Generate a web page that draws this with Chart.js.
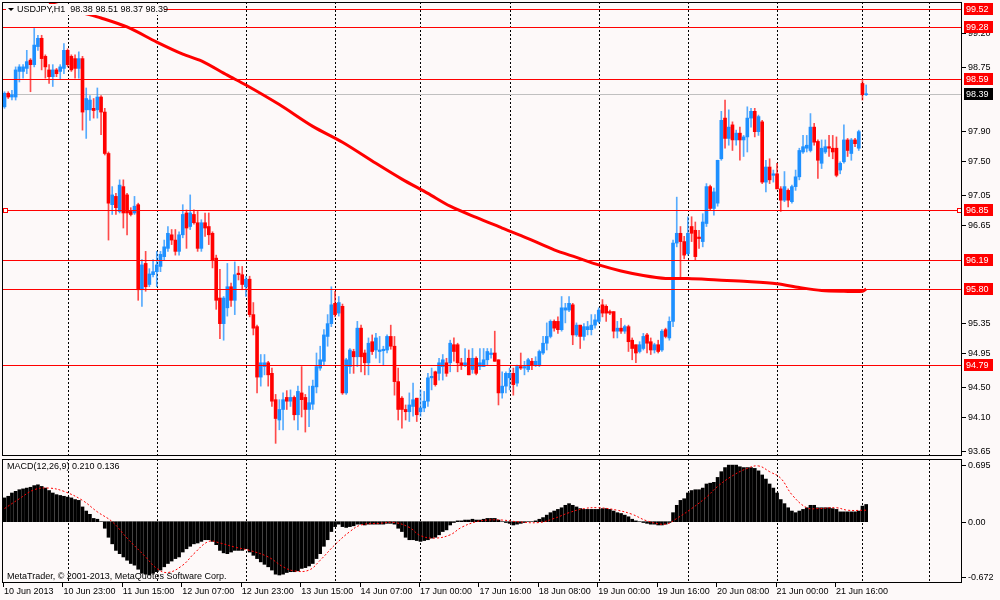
<!DOCTYPE html>
<html>
<head>
<meta charset="utf-8">
<title>USDJPY,H1</title>
<script src="https://cdn.jsdelivr.net/npm/chart.js@4.4.0/dist/chart.umd.min.js"></script>
<style>
html, body { margin: 0; padding: 0; background: #fdf9f9; }
#wrap { position: relative; width: 1000px; height: 600px; overflow: hidden; }
#priceChart { position: absolute; left: 0; top: 0; }
#macdChart { position: absolute; left: 0; top: 458px; }
</style>
</head>
<body>
<div id="wrap">
<canvas id="priceChart" width="1000" height="458"></canvas>
<canvas id="macdChart" width="1000" height="142"></canvas>
</div>
<script>
// hourly candles, bar 0 = 10 Jun 07:00
const opens = [
  98.22, 98.40, 98.35, 98.35, 98.69, 98.69, 98.73, 98.84, 98.78, 99.02,
  99.13, 98.89, 98.71, 98.62, 98.71, 98.69, 98.73, 98.97, 98.89, 98.86,
  98.73, 98.86, 98.18, 98.18, 98.20, 98.18, 98.35, 98.15, 97.60, 96.92,
  97.03, 96.83, 97.16, 97.05, 96.83, 96.81, 96.92, 95.79, 96.14, 95.86,
  95.99, 96.03, 96.10, 96.23, 96.34, 96.52, 96.45, 96.30, 96.52, 96.81,
  96.63, 96.79, 96.68, 96.34, 96.68, 96.63, 96.54, 96.21, 95.68, 95.34,
  95.55, 95.83, 95.65, 96.01, 95.99, 95.83, 95.93, 95.46, 95.30, 94.63,
  94.77, 94.82, 94.68, 94.33, 94.06, 94.20, 94.36, 94.31, 94.36, 94.13,
  94.42, 94.36, 94.20, 94.27, 94.50, 94.75, 94.84, 95.17, 95.34, 95.61,
  95.48, 95.57, 94.42, 94.77, 94.97, 94.90, 95.28, 94.95, 94.82, 95.10,
  94.99, 94.97, 94.98, 94.99, 95.17, 95.04, 94.57, 94.35, 94.20, 94.17,
  94.24, 94.35, 94.17, 94.22, 94.31, 94.62, 94.70, 94.68, 94.77, 94.82,
  94.82, 95.06, 95.06, 94.82, 94.79, 94.88, 94.73, 94.88, 94.77, 94.77,
  94.86, 94.93, 94.95, 94.86, 94.42, 94.51, 94.62, 94.68, 94.55, 94.77,
  94.75, 94.73, 94.84, 94.79, 94.79, 94.95, 95.08, 95.17, 95.37, 95.37,
  95.26, 95.52, 95.52, 95.59, 95.19, 95.32, 95.17, 95.26, 95.26, 95.32,
  95.37, 95.59, 95.57, 95.50, 95.50, 95.24, 95.28, 95.24, 95.30, 95.12,
  95.06, 94.97, 95.01, 95.19, 95.10, 94.99, 95.06, 94.99, 95.26, 95.15,
  95.37, 96.41, 96.54, 96.43, 96.27, 96.63, 96.58, 96.49, 96.43, 96.67,
  97.16, 96.87, 96.94, 97.53, 98.07, 97.80, 97.98, 97.78, 97.87, 97.78,
  97.82, 98.07, 98.16, 97.89, 98.02, 97.22, 97.42, 97.31, 97.33, 97.13,
  96.98, 97.11, 96.96, 97.16, 97.29, 97.62, 97.67, 97.64, 97.95, 97.76,
  97.47, 97.62, 97.69, 97.67, 97.67, 97.38, 97.49, 97.78, 97.60, 97.78,
  97.67, 98.53, 98.38
];
const highs = [
  98.42, 98.42, 98.44, 98.75, 98.78, 98.78, 98.97, 98.86, 99.26, 99.17,
  99.17, 98.91, 98.78, 98.78, 98.73, 98.78, 99.06, 98.99, 98.91, 98.91,
  98.95, 98.89, 98.47, 98.37, 98.33, 98.47, 98.37, 98.20, 97.62, 97.16,
  97.07, 97.25, 97.25, 97.07, 96.88, 97.03, 96.94, 96.19, 96.30, 96.07,
  96.19, 96.30, 96.30, 96.45, 96.63, 96.59, 96.59, 96.56, 96.92, 96.85,
  97.05, 96.85, 96.83, 96.72, 96.81, 96.81, 96.56, 96.25, 96.06, 95.70,
  96.14, 95.88, 96.16, 96.10, 96.10, 95.97, 95.97, 95.62, 95.32, 94.93,
  94.93, 94.84, 94.75, 94.40, 94.33, 94.42, 94.45, 94.46, 94.38, 94.51,
  94.77, 94.40, 94.51, 94.59, 94.95, 95.04, 95.26, 95.46, 95.83, 95.77,
  95.70, 95.60, 94.88, 95.01, 95.00, 95.37, 95.32, 94.99, 95.15, 95.19,
  95.21, 95.17, 95.04, 95.19, 95.32, 95.17, 94.75, 94.37, 94.26, 94.42,
  94.55, 94.35, 94.46, 94.44, 94.68, 94.75, 94.71, 94.88, 94.93, 94.88,
  95.12, 95.15, 95.08, 94.88, 95.01, 94.99, 95.01, 94.90, 95.01, 95.01,
  95.01, 95.01, 95.24, 94.86, 94.70, 94.70, 94.75, 94.75, 94.79, 94.95,
  94.84, 94.88, 94.88, 94.90, 94.99, 95.17, 95.35, 95.39, 95.39, 95.43,
  95.70, 95.61, 95.70, 95.61, 95.35, 95.32, 95.34, 95.37, 95.46, 95.46,
  95.55, 95.66, 95.59, 95.52, 95.50, 95.37, 95.41, 95.32, 95.32, 95.15,
  95.06, 95.10, 95.21, 95.21, 95.15, 95.08, 95.12, 95.26, 95.28, 95.43,
  96.45, 97.02, 96.63, 96.50, 96.76, 96.76, 96.69, 96.58, 96.80, 97.20,
  97.18, 97.14, 97.51, 98.16, 98.31, 98.18, 98.02, 97.91, 97.95, 97.84,
  98.22, 98.20, 98.20, 98.11, 98.04, 97.51, 97.53, 97.38, 97.47, 97.16,
  97.36, 97.13, 97.18, 97.38, 97.67, 97.84, 97.84, 98.13, 98.00, 97.78,
  97.78, 97.78, 97.84, 97.84, 97.82, 97.49, 97.98, 97.80, 97.80, 97.80,
  97.91, 98.57, 98.51
];
const lows = [
  98.20, 98.33, 98.31, 98.31, 98.55, 98.60, 98.66, 98.42, 98.75, 98.97,
  98.71, 98.60, 98.53, 98.49, 98.62, 98.58, 98.66, 98.75, 98.69, 98.60,
  98.60, 97.91, 97.80, 98.04, 98.07, 98.07, 97.85, 97.58, 96.45, 96.79,
  96.79, 96.81, 96.61, 96.52, 96.77, 96.79, 95.65, 95.57, 95.77, 95.83,
  95.96, 95.83, 96.03, 96.19, 96.30, 96.39, 96.25, 96.25, 96.48, 96.34,
  96.59, 96.66, 96.30, 96.30, 96.50, 96.39, 96.08, 95.53, 95.14, 95.12,
  95.44, 95.57, 95.46, 95.92, 95.79, 95.70, 95.43, 95.19, 94.42, 94.51,
  94.66, 94.51, 94.24, 93.75, 93.93, 93.93, 94.20, 94.24, 94.06, 93.93,
  94.10, 93.90, 93.97, 94.20, 94.42, 94.72, 94.79, 95.04, 95.30, 95.43,
  95.44, 94.40, 94.40, 94.68, 94.68, 94.77, 94.70, 94.66, 94.66, 94.93,
  94.88, 94.82, 94.79, 94.95, 95.00, 94.39, 94.06, 93.95, 94.06, 94.04,
  94.11, 94.04, 94.11, 94.17, 94.24, 94.46, 94.51, 94.59, 94.59, 94.64,
  94.70, 94.84, 94.70, 94.73, 94.77, 94.66, 94.68, 94.66, 94.73, 94.77,
  94.79, 94.88, 94.84, 94.26, 94.35, 94.42, 94.46, 94.39, 94.51, 94.73,
  94.66, 94.70, 94.73, 94.77, 94.77, 94.93, 94.99, 95.15, 95.24, 95.21,
  95.24, 95.35, 95.50, 95.06, 95.17, 95.01, 95.12, 95.19, 95.19, 95.28,
  95.35, 95.43, 95.37, 95.46, 95.15, 95.15, 95.21, 95.21, 94.97, 94.86,
  94.82, 94.95, 94.99, 94.95, 94.93, 94.95, 94.95, 94.97, 95.15, 95.12,
  95.30, 96.36, 95.96, 96.20, 96.25, 96.43, 96.18, 96.34, 96.36, 96.63,
  96.85, 96.78, 96.90, 97.51, 97.67, 97.71, 97.64, 97.71, 97.51, 97.56,
  97.62, 97.95, 97.82, 97.84, 97.20, 97.09, 97.20, 97.22, 97.13, 96.83,
  96.96, 96.89, 96.94, 97.11, 97.25, 97.60, 97.62, 97.62, 97.71, 97.27,
  97.40, 97.60, 97.56, 97.53, 97.29, 97.33, 97.47, 97.56, 97.51, 97.69,
  97.64, 98.31, 98.37
];
const closes = [
  98.40, 98.35, 98.38, 98.71, 98.75, 98.75, 98.82, 98.78, 99.04, 99.13,
  98.86, 98.75, 98.62, 98.71, 98.66, 98.75, 98.97, 98.78, 98.71, 98.73,
  98.86, 98.15, 98.33, 98.31, 98.17, 98.35, 98.15, 97.60, 96.94, 97.05,
  96.88, 97.18, 96.81, 96.81, 96.79, 96.90, 95.79, 96.12, 95.83, 96.00,
  96.03, 96.12, 96.26, 96.36, 96.54, 96.45, 96.30, 96.52, 96.79, 96.61,
  96.81, 96.68, 96.34, 96.68, 96.61, 96.52, 96.19, 95.65, 95.34, 95.68,
  95.83, 95.65, 95.99, 95.99, 95.86, 95.93, 95.46, 95.28, 94.63, 94.82,
  94.82, 94.66, 94.31, 94.08, 94.20, 94.33, 94.31, 94.36, 94.13, 94.44,
  94.33, 94.20, 94.29, 94.51, 94.77, 94.86, 95.19, 95.34, 95.59, 95.46,
  95.62, 94.42, 94.86, 94.99, 94.90, 95.28, 94.90, 94.82, 95.08, 94.97,
  95.15, 94.99, 95.00, 95.17, 95.04, 94.57, 94.20, 94.20, 94.17, 94.26,
  94.33, 94.13, 94.22, 94.31, 94.62, 94.64, 94.53, 94.82, 94.86, 94.68,
  95.08, 94.97, 94.82, 94.79, 94.82, 94.66, 94.88, 94.68, 94.82, 94.86,
  94.97, 94.95, 94.84, 94.42, 94.51, 94.68, 94.68, 94.53, 94.77, 94.75,
  94.77, 94.86, 94.79, 94.84, 94.97, 95.08, 95.17, 95.37, 95.28, 95.26,
  95.55, 95.55, 95.61, 95.19, 95.32, 95.17, 95.30, 95.30, 95.32, 95.39,
  95.52, 95.48, 95.48, 95.48, 95.24, 95.28, 95.24, 95.30, 95.10, 95.01,
  94.95, 95.06, 95.17, 95.08, 94.99, 95.06, 94.97, 95.24, 95.17, 95.37,
  96.41, 96.54, 96.43, 96.25, 96.54, 96.54, 96.23, 96.47, 96.69, 97.16,
  96.87, 97.09, 97.51, 98.04, 97.80, 97.95, 97.78, 97.87, 97.78, 97.82,
  98.07, 98.16, 97.89, 98.09, 97.22, 97.42, 97.25, 97.33, 97.13, 96.98,
  97.16, 96.98, 97.16, 97.29, 97.64, 97.69, 97.71, 97.95, 97.75, 97.51,
  97.67, 97.69, 97.67, 97.62, 97.31, 97.47, 97.78, 97.64, 97.78, 97.73,
  97.89, 98.38, 98.39
];

// red moving average, read at a few bars
const maBars = [12, 21, 26, 33, 41, 48, 53, 60, 65, 74, 83, 91, 100, 107, 114, 120, 127, 134,
  141, 148, 154, 160, 166, 172, 178, 184, 192, 200, 208, 214, 220, 226, 231, 232];
const maValues = [99.60, 99.47, 99.40, 99.28, 99.08, 98.92, 98.83, 98.64, 98.51, 98.25, 97.96,
  97.75, 97.47, 97.26, 97.07, 96.90, 96.75, 96.61, 96.47, 96.32, 96.22, 96.12, 96.04, 95.98,
  95.94, 95.94, 95.92, 95.90, 95.87, 95.82, 95.78, 95.77, 95.77, 95.80];

// MACD histogram, one per bar
const macdHist = [
  0.29, 0.31, 0.35, 0.37, 0.39, 0.40, 0.41, 0.42, 0.44, 0.45,
  0.43, 0.41, 0.38, 0.35, 0.33, 0.32, 0.31, 0.30, 0.29, 0.27,
  0.26, 0.18, 0.13, 0.09, 0.04, 0.03, 0.00, -0.08, -0.19, -0.27,
  -0.35, -0.39, -0.43, -0.47, -0.51, -0.53, -0.58, -0.63, -0.64, -0.65,
  -0.63, -0.61, -0.59, -0.55, -0.51, -0.48, -0.45, -0.43, -0.37, -0.33,
  -0.30, -0.27, -0.26, -0.24, -0.22, -0.22, -0.24, -0.28, -0.35, -0.38,
  -0.39, -0.37, -0.35, -0.35, -0.35, -0.33, -0.37, -0.41, -0.45, -0.49,
  -0.52, -0.55, -0.59, -0.64, -0.65, -0.64, -0.62, -0.61, -0.61, -0.60,
  -0.57, -0.56, -0.54, -0.51, -0.45, -0.39, -0.30, -0.22, -0.12, -0.06,
  -0.03, -0.06, -0.07, -0.06, -0.05, -0.03, -0.03, -0.04, -0.03, -0.03,
  -0.03, -0.03, -0.03, -0.02, -0.02, -0.03, -0.08, -0.12, -0.19, -0.22,
  -0.22, -0.23, -0.24, -0.23, -0.22, -0.20, -0.19, -0.16, -0.12, -0.10,
  -0.04, -0.01, 0.01, 0.01, 0.02, 0.02, 0.03, 0.02, 0.02, 0.03,
  0.04, 0.04, 0.04, 0.02, 0.00, -0.01, -0.02, -0.04, -0.03, -0.02,
  -0.01, 0.00, 0.00, 0.01, 0.03, 0.05, 0.08, 0.11, 0.13, 0.15,
  0.17, 0.20, 0.22, 0.20, 0.18, 0.16, 0.15, 0.15, 0.15, 0.15,
  0.15, 0.16, 0.16, 0.15, 0.13, 0.11, 0.10, 0.08, 0.06, 0.03,
  0.01, 0.00, -0.01, -0.02, -0.03, -0.03, -0.04, -0.04, -0.03, -0.01,
  0.11, 0.20, 0.26, 0.28, 0.35, 0.38, 0.39, 0.39, 0.41, 0.46,
  0.47, 0.48, 0.54, 0.61, 0.66, 0.69, 0.69, 0.69, 0.67, 0.66,
  0.66, 0.66, 0.65, 0.62, 0.57, 0.52, 0.46, 0.41, 0.35, 0.27,
  0.22, 0.17, 0.13, 0.11, 0.13, 0.15, 0.17, 0.20, 0.20, 0.17,
  0.17, 0.17, 0.17, 0.16, 0.15, 0.12, 0.12, 0.12, 0.12, 0.12,
  0.13, 0.19, 0.21
];
// signal line, read at a few bars
const signalBars = [0, 4, 8, 12, 16, 21, 25, 29, 33, 38, 41, 44, 48, 51, 55, 58, 62, 66, 71, 75,
  78, 82, 85, 89, 93, 96, 101, 105, 109, 112, 116, 120, 123, 127, 130, 134, 138, 144, 148, 152,
  156, 160, 165, 169, 173, 178, 181, 185, 189, 192, 196, 200, 203, 206, 209, 212, 216, 219, 224,
  227, 232];
const signalValues = [0.16, 0.28, 0.39, 0.41, 0.37, 0.26, 0.12, 0.00, -0.20, -0.43, -0.57, -0.62,
  -0.53, -0.39, -0.24, -0.26, -0.31, -0.35, -0.43, -0.55, -0.60, -0.59, -0.47, -0.28, -0.12, -0.04,
  -0.02, -0.01, -0.07, -0.17, -0.20, -0.16, -0.07, 0.00, 0.02, 0.02, 0.00, -0.01, 0.04, 0.11, 0.16,
  0.17, 0.14, 0.09, 0.01, -0.03, 0.04, 0.16, 0.30, 0.43, 0.56, 0.65, 0.68, 0.61, 0.53, 0.33, 0.17,
  0.16, 0.17, 0.14, 0.14];

const priceTicks = [99.20, 98.75, 97.90, 97.50, 97.05, 96.65, 95.35, 94.95, 94.50, 94.10, 93.65];
const levels = [99.52, 99.28, 98.59, 96.85, 96.19, 95.80, 94.79];
const lastPrice = 98.39;
const macdTicks = [0.695, 0.00, -0.672];
const macdTickLabels = ['0.695', '0.00', '-0.672'];
const separatorBars = [17, 41, 65, 89, 112, 136, 160, 184, 208, 231, 249];
const xLabelBars = [0, 16, 32, 48, 64, 80, 96, 112, 128, 144, 160, 176, 192, 208, 224];
const xLabels = ['10 Jun 2013', '10 Jun 23:00', '11 Jun 15:00', '12 Jun 07:00', '12 Jun 23:00',
  '13 Jun 15:00', '14 Jun 07:00', '17 Jun 00:00', '17 Jun 16:00', '18 Jun 08:00', '19 Jun 00:00',
  '19 Jun 16:00', '20 Jun 08:00', '21 Jun 00:00', '21 Jun 16:00'];
const titleText = 'USDJPY,H1  98.38 98.51 98.37 98.39';
const macdTitle = 'MACD(12,26,9) 0.210 0.136';
const copyright = 'MetaTrader, \u00a9 2001-2013, MetaQuotes Software Corp.';

const BG = '#fdf9f9';
const UP = '#1e90ff';
const DOWN = '#ff0000';
const FONT = '9px "Liberation Sans", Arial, sans-serif';
const X_MIN = -0.673, X_MAX = 257.8;

const idx = opens.map((_, i) => i);
const isUp = i => closes[i] >= opens[i];

// dashed day separators
function drawSeparators(chart) {
    const ctx = chart.ctx, a = chart.chartArea, x = chart.scales.x;
    ctx.save();
    ctx.strokeStyle = '#000';
    ctx.lineWidth = 1;
    ctx.setLineDash([2, 2]);
    separatorBars.forEach(b => {
        const px = Math.round(x.getPixelForValue(b)) + 0.5;
        ctx.beginPath();
        ctx.moveTo(px, a.top);
        ctx.lineTo(px, a.bottom);
        ctx.stroke();
    });
    ctx.restore();
}

function drawFrame(chart) {
    const ctx = chart.ctx, a = chart.chartArea;
    ctx.save();
    ctx.strokeStyle = '#000';
    ctx.lineWidth = 1;
    ctx.strokeRect(a.left + 0.5, a.top + 0.5, a.right - a.left - 1, a.bottom - a.top - 1);
    ctx.restore();
}

function axisTicks(chart, scale, values, labels) {
    const ctx = chart.ctx, a = chart.chartArea;
    ctx.save();
    ctx.font = FONT;
    ctx.textBaseline = 'middle';
    ctx.fillStyle = '#000';
    ctx.strokeStyle = '#000';
    values.forEach((v, i) => {
        const py = Math.round(scale.getPixelForValue(v)) + 0.5;
        ctx.beginPath();
        ctx.moveTo(a.right, py);
        ctx.lineTo(a.right + 4, py);
        ctx.stroke();
        ctx.fillText(labels[i], a.right + 6, py);
    });
    ctx.restore();
}

function tagLabel(ctx, py, text, bg) {
    ctx.fillStyle = bg;
    ctx.fillRect(964, Math.round(py) - 6, 29, 12);
    ctx.fillStyle = '#fff';
    ctx.fillText(text, 966, Math.round(py) + 0.5);
}

const priceDecor = {
    id: 'priceDecor',
    beforeDatasetsDraw(chart) {
        drawSeparators(chart);
        const ctx = chart.ctx, a = chart.chartArea, y = chart.scales.y;
        ctx.save();
        ctx.strokeStyle = '#c0c0c0';
        const py = Math.round(y.getPixelForValue(lastPrice)) + 0.5;
        ctx.beginPath();
        ctx.moveTo(a.left, py);
        ctx.lineTo(a.right, py);
        ctx.stroke();
        ctx.restore();
    },
    afterDatasetsDraw(chart) {
        const ctx = chart.ctx, a = chart.chartArea, y = chart.scales.y;
        ctx.save();
        ctx.strokeStyle = '#ff0000';
        ctx.lineWidth = 1;
        levels.forEach(v => {
            const py = Math.round(y.getPixelForValue(v)) + 0.5;
            ctx.beginPath();
            ctx.moveTo(a.left, py);
            ctx.lineTo(a.right, py);
            ctx.stroke();
        });
        // selected line markers
        const sy = Math.round(y.getPixelForValue(96.85));
        ctx.fillStyle = '#fff';
        [a.left + 1, a.right - 5].forEach(sx => {
            ctx.fillRect(sx, sy - 2, 4, 4);
            ctx.strokeRect(sx + 0.5, sy - 1.5, 4, 4);
        });
        // title with its background box
        ctx.fillStyle = BG;
        ctx.fillRect(6, 4, 158, 11);
        ctx.fillStyle = '#000';
        ctx.beginPath();
        ctx.moveTo(8, 8);
        ctx.lineTo(14, 8);
        ctx.lineTo(11, 11);
        ctx.closePath();
        ctx.fill();
        ctx.font = FONT;
        ctx.textBaseline = 'middle';
        ctx.fillText(titleText, 17, 9.5);
        ctx.restore();

        drawFrame(chart);
        axisTicks(chart, y, priceTicks, priceTicks.map(v => v.toFixed(2)));

        ctx.save();
        ctx.font = FONT;
        ctx.textBaseline = 'middle';
        levels.forEach(v => tagLabel(ctx, y.getPixelForValue(v), v.toFixed(2), '#ff0000'));
        tagLabel(ctx, y.getPixelForValue(lastPrice), lastPrice.toFixed(2), '#000');
        ctx.restore();
    }
};

const macdDecor = {
    id: 'macdDecor',
    beforeDatasetsDraw(chart) {
        drawSeparators(chart);
    },
    afterDatasetsDraw(chart) {
        const ctx = chart.ctx, a = chart.chartArea, x = chart.scales.x, y = chart.scales.y;
        drawFrame(chart);
        axisTicks(chart, y, macdTicks, macdTickLabels);
        ctx.save();
        ctx.font = FONT;
        ctx.textBaseline = 'middle';
        ctx.fillStyle = '#000';
        ctx.fillText(macdTitle, 7, 9);
        ctx.fillText(copyright, 7, 119);
        ctx.strokeStyle = '#000';
        xLabelBars.forEach((b, i) => {
            const px = x.getPixelForValue(b);
            const tx = Math.round(px - 1.5) + 0.5;
            ctx.beginPath();
            ctx.moveTo(tx, a.bottom);
            ctx.lineTo(tx, a.bottom + 4);
            ctx.stroke();
            ctx.fillText(xLabels[i], px - 0.5, 133.5);
        });
        ctx.restore();
    }
};

const hiddenX = { type: 'linear', min: X_MIN, max: X_MAX, offset: false, display: false };

new Chart(document.getElementById('priceChart'), {
    type: 'bar',
    data: {
        datasets: [
            {
                type: 'line',
                data: maBars.map((b, i) => ({ x: b, y: maValues[i] })),
                borderColor: '#ff0000',
                borderWidth: 3,
                pointRadius: 0,
                tension: 0.3,
                order: 0
            },
            {
                data: idx.map(i => ({ x: i, y: [opens[i], closes[i]] })),
                backgroundColor: idx.map(i => isUp(i) ? UP : DOWN),
                barThickness: 3,
                minBarLength: 1,
                grouped: false,
                order: 1
            },
            {
                data: idx.map(i => ({ x: i, y: [lows[i], highs[i]] })),
                backgroundColor: idx.map(i => isUp(i) ? 'rgba(30,144,255,0.75)' : 'rgba(255,0,0,0.7)'),
                barThickness: 1,
                grouped: false,
                order: 2
            }
        ]
    },
    options: {
        responsive: false,
        animation: false,
        devicePixelRatio: 1,
        layout: { padding: { left: 2, right: 38, top: 2, bottom: 2 } },
        scales: {
            x: hiddenX,
            y: { min: 93.582, max: 99.612, display: false }
        },
        plugins: { legend: { display: false }, tooltip: { enabled: false } }
    },
    plugins: [priceDecor]
});

new Chart(document.getElementById('macdChart'), {
    type: 'bar',
    data: {
        datasets: [
            {
                type: 'line',
                data: signalBars.map((b, i) => ({ x: b, y: signalValues[i] })),
                borderColor: '#ff0000',
                borderWidth: 1,
                borderDash: [2, 2],
                pointRadius: 0,
                tension: 0.4,
                order: 0
            },
            {
                data: idx.map(i => ({ x: i, y: macdHist[i] })),
                backgroundColor: '#000',
                barThickness: 3,
                grouped: false,
                order: 1
            }
        ]
    },
    options: {
        responsive: false,
        animation: false,
        devicePixelRatio: 1,
        layout: { padding: { left: 2, right: 38, top: 1, bottom: 17 } },
        scales: {
            x: hiddenX,
            y: { min: -0.7476, max: 0.7646, display: false }
        },
        plugins: { legend: { display: false }, tooltip: { enabled: false } }
    },
    plugins: [macdDecor]
});
</script>
</body>
</html>
